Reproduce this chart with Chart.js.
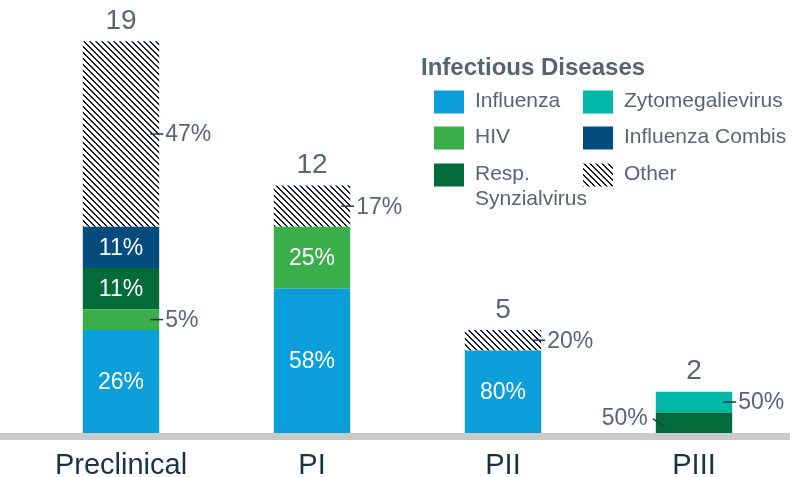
<!DOCTYPE html>
<html>
<head>
<meta charset="utf-8">
<script src="https://cdn.jsdelivr.net/npm/chart.js@4.4.1/dist/chart.umd.min.js"></script>
<style>
  html, body { margin: 0; padding: 0; background: #fff; }
  #wrap { width: 809px; height: 477px; }
</style>
</head>
<body>
<div id="wrap"><canvas id="pipelineChart" width="809" height="477"></canvas></div>
<script>
// data (number of projects per phase)
const phases = ['Preclinical', 'PI', 'PII', 'PIII'];
const influenza = [5, 7, 4, 0];
const hiv = [1, 3, 0, 0];
const respSyncytial = [2, 0, 0, 1];
const zytomegalie = [0, 0, 0, 1];
const influenzaCombis = [2, 0, 0, 0];
const other = [9, 2, 1, 0];

const legendTitle = 'Infectious Diseases';

const totals = phases.map((p, i) =>
    influenza[i] + hiv[i] + respSyncytial[i] + zytomegalie[i] + influenzaCombis[i] + other[i]);

const GREY_TEXT = '#5a666e';
const FONT = '"Liberation Sans", Arial, sans-serif';

// hatch pattern for "Other" (diagonal "\" stripes)
function makeHatch() {
    const c = document.createElement('canvas');
    c.width = 6;
    c.height = 6;
    const cx = c.getContext('2d');
    const img = cx.createImageData(6, 6);
    for (let y = 0; y < 6; y++) {
        for (let x = 0; x < 6; x++) {
            const k = (y * 6 + x) * 4;
            const on = ((x - y) % 6 + 6) % 6 < 2;
            img.data[k] = on ? 20 : 255;
            img.data[k + 1] = on ? 30 : 255;
            img.data[k + 2] = on ? 36 : 255;
            img.data[k + 3] = 255;
        }
    }
    cx.putImageData(img, 0, 0);
    return cx.createPattern(c, 'repeat');
}
const hatch = makeHatch();

// labels that sit outside the bar on the left
const leftLabels = { 'Resp. Synzialvirus': ['PIII'] };

const labelPlugin = {
    id: 'segmentLabels',
    afterDatasetsDraw(chart) {
        const ctx = chart.ctx;
        const area = chart.chartArea;
        ctx.save();

        // grey base line
        ctx.fillStyle = '#c8cbcb';
        ctx.fillRect(0, Math.round(area.bottom), 790, 7);

        ctx.font = '23px ' + FONT;
        ctx.textBaseline = 'middle';
        chart.data.datasets.forEach((ds, di) => {
            const meta = chart.getDatasetMeta(di);
            meta.data.forEach((bar, j) => {
                const v = ds.data[j];
                if (!v) return;
                const pct = Math.round(v / totals[j] * 100) + '%';
                const top = Math.min(bar.y, bar.base);
                const h = Math.abs(bar.base - bar.y);
                const cy = top + h / 2;
                const right = bar.x + bar.width / 2;
                const left = bar.x - bar.width / 2;
                const isOther = ds.label === 'Other';
                if (!isOther && h >= 28) {
                    ctx.fillStyle = '#ffffff';
                    ctx.textAlign = 'center';
                    ctx.fillText(pct, bar.x, cy + 1);
                    return;
                }
                ctx.strokeStyle = '#2b3a42';
                ctx.lineWidth = 1.5;
                ctx.fillStyle = GREY_TEXT;
                const onLeft = (leftLabels[ds.label] || []).includes(phases[j]);
                ctx.beginPath();
                if (onLeft) {
                    ctx.moveTo(left - 3, cy - 4);
                    ctx.lineTo(left + 9, cy + 4);
                    ctx.stroke();
                    ctx.textAlign = 'right';
                    ctx.fillText(pct, left - 8, cy - 4);
                } else {
                    ctx.moveTo(right - 9, cy);
                    ctx.lineTo(right + 4, cy);
                    ctx.stroke();
                    ctx.textAlign = 'left';
                    ctx.fillText(pct, right + 6, cy + 1);
                }
            });
        });

        // totals above bars
        const first = chart.getDatasetMeta(0);
        ctx.font = '28px ' + FONT;
        ctx.fillStyle = GREY_TEXT;
        ctx.textAlign = 'center';
        const yScale = chart.scales.y;
        first.data.forEach((bar, j) => {
            const topY = yScale.getPixelForValue(totals[j]);
            ctx.fillText(String(totals[j]), bar.x, topY - 20);
        });
        ctx.restore();
    },
    afterDraw(chart) {
        // legend in two columns
        const ctx = chart.ctx;
        ctx.save();
        ctx.textBaseline = 'middle';
        ctx.textAlign = 'left';
        ctx.font = 'bold 24px ' + FONT;
        ctx.fillStyle = '#56646c';
        ctx.fillText(legendTitle, 421, 68);

        const order = ['Influenza', 'HIV', 'Resp. Synzialvirus', 'Zytomegalievirus', 'Influenza Combis', 'Other'];
        const colX = [434, 583];
        const rowY = [102, 138, 175];
        const maxW = [100, 200];
        ctx.font = '21px ' + FONT;
        order.forEach((name, k) => {
            const ds = chart.data.datasets.find(d => d.label === name);
            const col = Math.floor(k / 3);
            const row = k % 3;
            const x = colX[col];
            const y = rowY[row];
            ctx.fillStyle = ds.backgroundColor;
            ctx.fillRect(x, y - 11.5, 30, 23);
            ctx.fillStyle = GREY_TEXT;
            // simple word wrap
            const words = name.split(' ');
            const lines = [];
            let cur = '';
            words.forEach(w => {
                const test = cur ? cur + ' ' + w : w;
                if (cur && ctx.measureText(test).width > maxW[col]) {
                    lines.push(cur);
                    cur = w;
                } else {
                    cur = test;
                }
            });
            lines.push(cur);
            lines.forEach((ln, li) => {
                ctx.fillText(ln, x + 41, y - 1 + li * 25);
            });
        });
        ctx.restore();
    }
};

const ctx = document.getElementById('pipelineChart').getContext('2d');

new Chart(ctx, {
    type: 'bar',
    data: {
        labels: phases,
        datasets: [
            { label: 'Influenza', data: influenza, backgroundColor: '#0b9edb' },
            { label: 'HIV', data: hiv, backgroundColor: '#3aae4a' },
            { label: 'Resp. Synzialvirus', data: respSyncytial, backgroundColor: '#016b3a' },
            { label: 'Zytomegalievirus', data: zytomegalie, backgroundColor: '#00b7a8' },
            { label: 'Influenza Combis', data: influenzaCombis, backgroundColor: '#044c7c' },
            { label: 'Other', data: other, backgroundColor: hatch }
        ]
    },
    options: {
        responsive: false,
        animation: false,
        layout: {
            padding: { left: 25.5, right: 19.5, top: 0, bottom: 0 }
        },
        datasets: {
            bar: {
                categoryPercentage: 1,
                barPercentage: 0.4,
                borderWidth: 0
            }
        },
        plugins: {
            legend: { display: false },
            tooltip: { enabled: false }
        },
        scales: {
            x: {
                stacked: true,
                grid: { display: false, drawTicks: false },
                border: { display: false },
                ticks: {
                    color: '#1b3240',
                    padding: 18,
                    font: { family: FONT, size: 29, lineHeight: 1 }
                },
                afterFit(scale) {
                    scale.height = 44;
                }
            },
            y: {
                stacked: true,
                display: false,
                min: 0,
                max: 21
            }
        }
    },
    plugins: [labelPlugin]
});
</script>
</body>
</html>
